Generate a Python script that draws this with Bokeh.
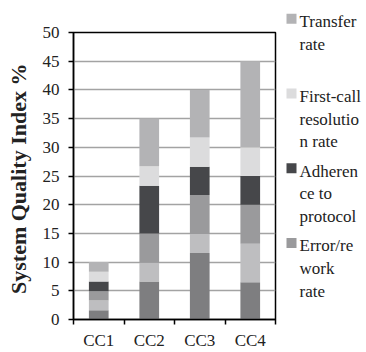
from bokeh.plotting import figure
from bokeh.layouts import row
from bokeh.models import Range1d, FixedTicker, ColumnDataSource
from bokeh.core.properties import value
from bokeh.embed import file_html
from bokeh.resources import INLINE

# Call-centre quality index, stacked by component
categories = ["CC1", "CC2", "CC3", "CC4"]
base_a = [1.6, 6.6, 11.6, 6.5]
base_b = [1.7, 3.3, 3.3, 6.7]
error_rework = [1.6, 5.1, 6.8, 6.8]
adherence = [1.7, 8.3, 4.9, 5.0]
first_call = [1.7, 3.4, 5.1, 5.0]
transfer = [1.7, 8.3, 8.3, 15.0]

stack_keys = ["base_a", "base_b", "error", "adherence", "first_call", "transfer"]
stack_colors = ["#7e7e80", "#bebec0", "#9a9a9c", "#46474a", "#dcdcdd", "#b3b3b5"]
legend_keys = ["transfer", "first_call", "adherence", "error"]
legend_labels = {
    "transfer": "Transfer\nrate",
    "first_call": "First-call\nresolutio\nn rate",
    "adherence": "Adheren\nce to\nprotocol",
    "error": "Error/re\nwork\nrate",
}

xpos = [i + 1 for i in range(len(categories))]
source = ColumnDataSource(dict(
    x=xpos, base_a=base_a, base_b=base_b, error=error_rework,
    adherence=adherence, first_call=first_call, transfer=transfer,
))

FONT = "Liberation Serif"
TEXT = "#222222"

p = figure(width=277, height=352, output_backend="svg", toolbar_location=None,
           x_range=Range1d(0.5, len(categories) + 0.5), y_range=Range1d(0, 50),
           min_border_left=73, min_border_right=2, min_border_top=32,
           min_border_bottom=30)
p.frame_align = False

p.vbar_stack(stack_keys, x="x", width=0.39, source=source,
             color=stack_colors, line_color=None)

# x axis: labels centred on bars, ticks between categories
p.xaxis.ticker = FixedTicker(ticks=xpos,
                             minor_ticks=[x - 0.5 for x in xpos] + [xpos[-1] + 0.5])
p.xaxis.major_label_overrides = {x: c for x, c in zip(xpos, categories)}
p.xaxis.major_tick_out = 0
p.xaxis.major_tick_in = 0
p.xaxis.minor_tick_out = 5
p.xaxis.minor_tick_in = 0
p.xaxis.minor_tick_line_color = "black"
p.xaxis.minor_tick_line_width = 1.5
p.xaxis.major_label_standoff = 6

p.yaxis.ticker = FixedTicker(ticks=list(range(0, 51, 5)))
p.yaxis.major_tick_out = 5
p.yaxis.major_tick_in = 0
p.yaxis.minor_tick_line_color = None
p.yaxis.major_label_standoff = 9
p.yaxis.axis_label = "System  Quality Index %"
p.yaxis.axis_label_text_font = FONT
p.yaxis.axis_label_text_font_style = "bold"
p.yaxis.axis_label_text_font_size = "22px"
p.yaxis.axis_label_text_color = TEXT
p.yaxis.axis_label_standoff = 9

for ax in (p.xaxis, p.yaxis):
    ax.axis_line_color = "black"
    ax.axis_line_width = 1.5
    ax.major_tick_line_color = "black"
    ax.major_tick_line_width = 1.5
    ax.major_label_text_font = FONT
    ax.major_label_text_font_size = "17px"
    ax.major_label_text_color = TEXT

p.xgrid.grid_line_color = None
p.ygrid.grid_line_color = "#a3a3a3"
p.ygrid.grid_line_width = 1.5
p.outline_line_color = "black"
p.outline_line_width = 1.5

# legend panel (pixel coordinates, y downwards)
LW, LH = 89, 352
leg = figure(width=LW, height=LH, output_backend="svg", toolbar_location=None,
             x_range=Range1d(0, LW), y_range=Range1d(LH, 0),
             min_border=0)
leg.frame_align = False
leg.axis.visible = False
leg.grid.grid_line_color = None
leg.outline_line_color = None

first_baseline = 26.7
pitch = 74.8
font_px = 17
tops = [first_baseline - 0.89 * font_px + i * pitch for i in range(len(legend_keys))]
marks = [first_baseline - 8.5 + i * pitch for i in range(len(legend_keys))]
colors = [stack_colors[stack_keys.index(k)] for k in legend_keys]

leg.scatter(x=[14] * len(legend_keys), y=marks, marker="square", size=10,
            color=colors, line_color=None)
leg.text(x=[22] * len(legend_keys), y=tops,
         text=[legend_labels[k] for k in legend_keys],
         text_font=value(FONT), text_font_size=value(f"{font_px}px"),
         text_color=TEXT, text_baseline="top", text_align="left",
         text_line_height=1.2)

layout = row(p, leg, spacing=0)
open("out.html", "w").write(file_html(layout, INLINE))
